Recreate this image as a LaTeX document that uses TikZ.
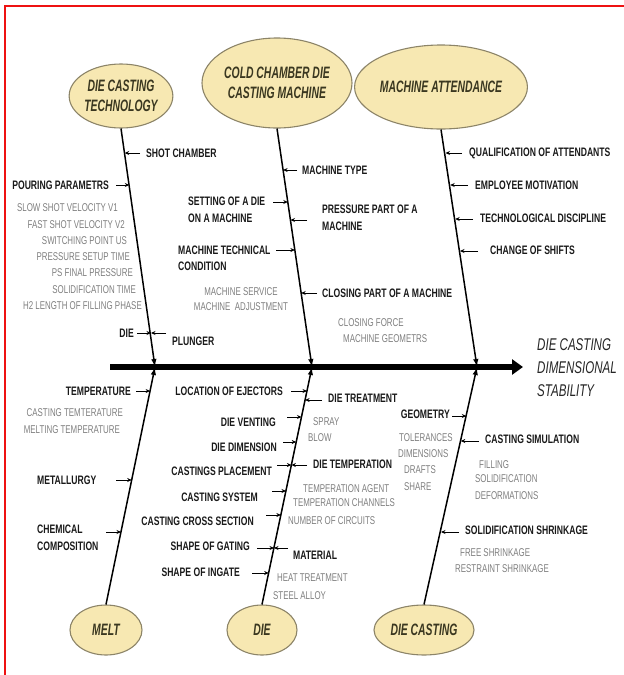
\documentclass[tikz,border=0pt]{standalone}
\usepackage{fontspec}
\setmainfont{Liberation Sans}[FakeStretch=0.7]
\newfontfamily\ellfont{Liberation Sans}[FakeStretch=0.63]
\newfontfamily\efffont{Liberation Sans}[FakeStretch=0.68]
\usetikzlibrary{shapes.geometric,arrows.meta}
\definecolor{ellfill}{HTML}{F7E8B2}
\definecolor{elldraw}{HTML}{8C8468}
\definecolor{elltext}{HTML}{3A3720}
\definecolor{graytxt}{HTML}{7E7E7E}
\definecolor{framered}{HTML}{EE1111}
\begin{document}
\begin{tikzpicture}[x=1pt,y=-1pt,
  cause/.style={ellipse, draw=elldraw, fill=ellfill, line width=1.1pt, inner sep=0pt, text=elltext, font=\ellfont\fontsize{16.5}{20}\selectfont\bfseries\itshape, align=center},
  lbl/.style={inner sep=0pt, font=\fontsize{12.3}{16.5}\selectfont\bfseries, text=black!90, align=left},
  note/.style={inner sep=0pt, font=\fontsize{11.3}{15}\selectfont, text=graytxt, align=center},
  bone/.style={line width=1.5pt, -{Latex[length=8pt,width=5.5pt]}},
  sub/.style={line width=0.9pt, -{Stealth[length=4.5pt,width=4pt]}},
  spine/.style={line width=5.5pt, -{Triangle[length=11pt,width=15pt]}}
]
\useasboundingbox (0,0) rectangle (624,675);
\draw[framered, line width=2pt] (624,6) -- (5,6) -- (5,675);

% spine
\coordinate (tail) at (110,367);
\coordinate (head) at (523,367);
\coordinate (J1) at (155,367);
\coordinate (J2) at (312,367);
\coordinate (J3) at (477,367);
\draw[spine] (tail) -- (head);
\node[anchor=west, inner sep=0pt, align=left, text=black!85, font=\efffont\fontsize{17}{23}\selectfont\itshape] (effect) at (537,368) {DIE CASTING\\DIMENSIONAL\\STABILITY};

% main causes
\node[cause, minimum width=102pt, minimum height=64pt] (dct) at (121,96) {DIE CASTING\\TECHNOLOGY};
\node[cause, minimum width=150pt, minimum height=90pt] (ccm) at (277,83) {COLD CHAMBER DIE\\CASTING MACHINE};
\node[cause, minimum width=146pt, minimum height=84pt] (ma) at (441,87) {MACHINE ATTENDANCE};
\node[cause, minimum width=72pt, minimum height=50pt] (melt) at (106,630) {MELT};
\node[cause, minimum width=70pt, minimum height=50pt] (die) at (262,630) {DIE};
\node[cause, minimum width=100pt, minimum height=50pt] (dc) at (424,630) {DIE CASTING};

\draw[bone] (dct.south) -- (J1);
\draw[bone] (ccm.south) -- (J2);
\draw[bone] (ma.south) -- (J3);
\draw[bone] (melt.north) -- (J1);
\draw[bone] (die.north) -- (J2);
\draw[bone] (dc.north) -- (J3);

% ---- die casting technology
\node[lbl, anchor=west] (shot) at (146,153) {SHOT CHAMBER};
\coordinate (b11) at (124.7,153);
\draw[sub] ([xshift=-6]shot.west) -- (b11);
\node[lbl, anchor=east] (pour) at (109,185) {POURING PARAMETRS};
\coordinate (b12) at (129.3,185);
\draw[sub] ([xshift=7]pour.east) -- (b12);
\node[note, anchor=east] (n1) at (118,208) {SLOW SHOT VELOCITY V1};
\node[note, anchor=east] (n2) at (125,225) {FAST SHOT VELOCITY V2};
\node[note, anchor=east] (n3) at (127,241) {SWITCHING POINT US};
\node[note, anchor=east] (n4) at (130,257) {PRESSURE SETUP TIME};
\node[note, anchor=east] (n5) at (133,273) {PS FINAL PRESSURE};
\node[note, anchor=east] (n6) at (136,290) {SOLIDIFICATION TIME};
\node[note, anchor=east] (n7) at (142,306) {H2 LENGTH OF FILLING PHASE};
\node[lbl, anchor=east] (ldie) at (134,333) {DIE};
\coordinate (b13) at (151,333);
\draw[sub] ([xshift=3]ldie.east) -- (b13);
\node[lbl, anchor=west] (plunger) at (172,341) {PLUNGER};
\coordinate (p13) at (166,333);
\draw[sub] (p13) -- (b13);

% ---- cold chamber die casting machine
\node[lbl, anchor=west] (mtype) at (302,170) {MACHINE TYPE};
\coordinate (b21) at (283.1,170);
\draw[sub] ([xshift=-5]mtype.west) -- (b21);
\node[lbl, anchor=west] (setting) at (188,210) {SETTING OF A DIE\\ON A MACHINE};
\coordinate (s21) at (273,202);
\coordinate (b22) at (287.8,202);
\draw[sub] (s21) -- (b22);
\node[lbl, anchor=west] (press) at (322,218) {PRESSURE PART OF A\\MACHINE};
\coordinate (s23) at (307,220);
\coordinate (b23) at (290.5,220);
\draw[sub] (s23) -- (b23);
\node[lbl, anchor=west] (tech) at (178,258.5) {MACHINE TECHNICAL\\CONDITION};
\coordinate (s24) at (276,250);
\coordinate (b24) at (294.9,250);
\draw[sub] (s24) -- (b24);
\node[note, anchor=center] (serv) at (241,299) {MACHINE SERVICE\\MACHINE \ ADJUSTMENT};
\node[lbl, anchor=west] (closing) at (322,293) {CLOSING PART OF A MACHINE};
\coordinate (b25) at (301.2,293);
\draw[sub] ([xshift=-5]closing.west) -- (b25);
\node[note, anchor=west] (cf) at (338,323) {CLOSING FORCE};
\node[note, anchor=west] (mg) at (343,339) {MACHINE GEOMETRS};

% ---- machine attendance
\node[lbl, anchor=west] (qual) at (469,153) {QUALIFICATION OF ATTENDANTS};
\coordinate (b31) at (445.5,153);
\draw[sub] ([xshift=-7]qual.west) -- (b31);
\node[lbl, anchor=west] (emp) at (475,185) {EMPLOYEE MOTIVATION};
\coordinate (b32) at (450.2,185);
\draw[sub] ([xshift=-7]emp.west) -- (b32);
\node[lbl, anchor=west] (disc) at (480,218) {TECHNOLOGICAL DISCIPLINE};
\coordinate (b33) at (455.2,219);
\coordinate (s33) at (473,219);
\draw[sub] (s33) -- (b33);
\node[lbl, anchor=west] (shift) at (490,250) {CHANGE OF SHIFTS};
\coordinate (b34) at (460,251);
\coordinate (s34) at (478,251);
\draw[sub] (s34) -- (b34);

% ---- melt
\node[lbl, anchor=east] (temp) at (131,391) {TEMPERATURE};
\coordinate (b41) at (150.1,391);
\draw[sub] ([xshift=5]temp.east) -- (b41);
\node[note, anchor=east] (ct) at (123,413) {CASTING TEMTERATURE};
\node[note, anchor=east] (mt) at (120,430) {MELTING TEMPERATURE};
\node[lbl, anchor=west] (met) at (37,480) {METALLURGY};
\coordinate (s42) at (116,480);
\coordinate (b42) at (131.7,480);
\draw[sub] (s42) -- (b42);
\node[lbl, anchor=west] (chem) at (37,538) {CHEMICAL\\COMPOSITION};
\coordinate (s43) at (106,532);
\coordinate (b43) at (121,532);
\draw[sub] (s43) -- (b43);

% ---- die
\node[lbl, anchor=east] (loc) at (283,391) {LOCATION OF EJECTORS};
\coordinate (s51) at (291,391);
\coordinate (b51) at (307,391);
\draw[sub] (s51) -- (b51);
\node[lbl, anchor=west] (treat) at (328,398) {DIE TREATMENT};
\coordinate (s52) at (322,400);
\coordinate (b52) at (305.1,400);
\draw[sub] (s52) -- (b52);
\node[lbl, anchor=east] (vent) at (276,422) {DIE VENTING};
\coordinate (s53) at (287,417);
\coordinate (b53) at (301.5,417);
\draw[sub] (s53) -- (b53);
\node[note, anchor=west] (spray) at (313,422) {SPRAY};
\node[note, anchor=west] (blow) at (308,438) {BLOW};
\node[lbl, anchor=east] (dim) at (277,447) {DIE DIMENSION};
\coordinate (s54) at (283,442);
\coordinate (b54) at (296.2,442);
\draw[sub] (s54) -- (b54);
\node[lbl, anchor=east] (place) at (272,471) {CASTINGS PLACEMENT};
\coordinate (s55) at (277,465);
\coordinate (b55) at (291.4,465);
\draw[sub] (s55) -- (b55);
\node[lbl, anchor=west] (dtemp) at (313,464) {DIE TEMPERATION};
\coordinate (s56) at (307,465);
\draw[sub] (s56) -- (b55);
\node[note, anchor=west] (ta) at (303,489) {TEMPERATION AGENT};
\node[note, anchor=west] (tc) at (293,503) {TEMPERATION CHANNELS};
\node[note, anchor=west] (nc) at (288,521) {NUMBER OF CIRCUITS};
\node[lbl, anchor=east] (csys) at (258,497) {CASTING SYSTEM};
\coordinate (s57) at (272,491);
\coordinate (b57) at (286,491);
\draw[sub] (s57) -- (b57);
\node[lbl, anchor=east] (cross) at (254,521) {CASTING CROSS SECTION};
\coordinate (s58) at (266,515);
\coordinate (b58) at (280.9,515);
\draw[sub] (s58) -- (b58);
\node[lbl, anchor=east] (gating) at (250,546) {SHAPE OF GATING};
\coordinate (s59) at (257,548);
\coordinate (b59) at (274,548);
\draw[sub] (s59) -- (b59);
\node[lbl, anchor=west] (mat) at (293,555) {MATERIAL};
\coordinate (s5a) at (288,548);
\draw[sub] (s5a) -- (b59);
\node[lbl, anchor=east] (ingate) at (240,572) {SHAPE OF INGATE};
\coordinate (s5b) at (252,573);
\coordinate (b5b) at (268.7,573);
\draw[sub] (s5b) -- (b5b);
\node[note, anchor=west] (ht) at (277,578) {HEAT TREATMENT};
\node[note, anchor=west] (sa) at (273,596) {STEEL ALLOY};

% ---- die casting
\node[lbl, anchor=east] (geo) at (450,414) {GEOMETRY};
\coordinate (s61) at (452,416);
\coordinate (b61) at (466.3,416);
\draw[sub] (s61) -- (b61);
\node[note, anchor=west] (tol) at (399,438) {TOLERANCES};
\node[note, anchor=west] (dims) at (398,454) {DIMENSIONS};
\node[note, anchor=west] (dra) at (404,470) {DRAFTS};
\node[note, anchor=west] (sha) at (404,487) {SHARE};
\node[lbl, anchor=west] (sim) at (485,439) {CASTING SIMULATION};
\coordinate (s62) at (479,441);
\coordinate (b62) at (460.8,441);
\draw[sub] (s62) -- (b62);
\node[note, anchor=west] (fil) at (479,465) {FILLING};
\node[note, anchor=west] (sol) at (475,479) {SOLIDIFICATION};
\node[note, anchor=west] (def) at (475,496) {DEFORMATIONS};
\node[lbl, anchor=west] (shr) at (465,530) {SOLIDIFICATION SHRINKAGE};
\coordinate (s63) at (459,532);
\coordinate (b63) at (441,532);
\draw[sub] (s63) -- (b63);
\node[note, anchor=west] (fs) at (460,553) {FREE SHRINKAGE};
\node[note, anchor=west] (rs) at (455,569) {RESTRAINT SHRINKAGE};
\end{tikzpicture}
\end{document}
